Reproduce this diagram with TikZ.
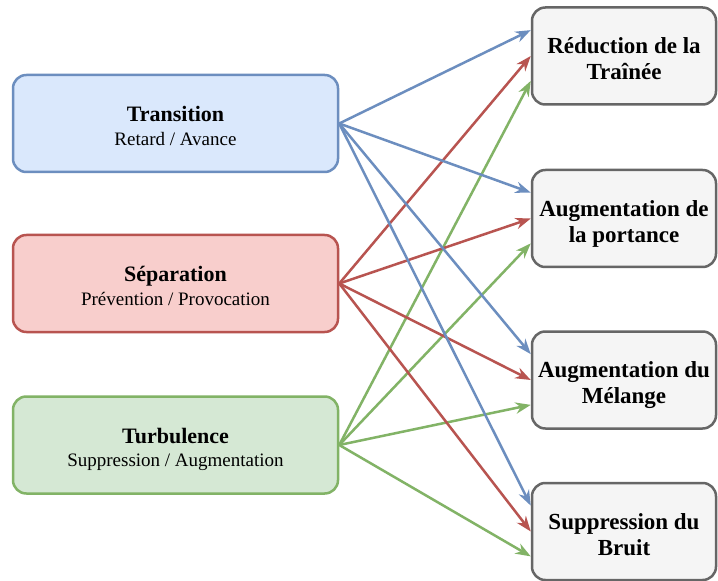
\documentclass[tikz,border=0pt]{standalone}
\usepackage{fontspec}
\setmainfont{Liberation Serif}
\usetikzlibrary{arrows.meta,calc}
\definecolor{bluefill}{HTML}{DAE8FC}
\definecolor{bluedraw}{HTML}{6C8EBF}
\definecolor{redfill}{HTML}{F8CECC}
\definecolor{reddraw}{HTML}{B85450}
\definecolor{greenfill}{HTML}{D5E8D4}
\definecolor{greendraw}{HTML}{82B366}
\definecolor{grayfill}{HTML}{F5F5F5}
\definecolor{graydraw}{HTML}{666666}
\tikzset{
  leftbox/.style={draw, rounded corners=10pt, line width=1.875pt, minimum width=243.75pt, minimum height=72.75pt, inner sep=0pt, font=\fontsize{14.25}{17.6}\selectfont},
  rightbox/.style={draw=graydraw, fill=grayfill, rounded corners=10pt, line width=1.875pt, minimum width=138pt, minimum height=72.75pt, inner sep=0pt, font=\bfseries\fontsize{17.25}{19.5}\selectfont},
  conn/.style={line width=1.875pt, -{Stealth[length=11.5pt,width=8.5pt]}}
}
\newcommand{\ttl}[1]{{\bfseries\fontsize{16.5}{17.25}\selectfont #1}}
\newcommand{\boxtext}[1]{\raisebox{-4pt}[\height][\depth]{\begin{tabular}{@{}c@{}}#1\end{tabular}}}
\begin{document}
\begin{tikzpicture}[x=0.75pt,y=-0.75pt]
\useasboundingbox[fill=white] (0,0) rectangle (718,581);
\node[leftbox, fill=bluefill, draw=bluedraw] (tr) at (175.5,123.5) {\boxtext{\ttl{Transition}\\Retard / Avance}};
\node[leftbox, fill=redfill, draw=reddraw] (se) at (175.5,283.5) {\boxtext{\ttl{Séparation}\\Prévention / Provocation}};
\node[leftbox, fill=greenfill, draw=greendraw] (tu) at (175.5,445) {\boxtext{\ttl{Turbulence}\\Suppression / Augmentation}};

\node[rightbox] (rd) at (624,56) {\boxtext{Réduction de la\\Traînée}};
\node[rightbox] (po) at (624,218.5) {\boxtext{Augmentation de\\la portance}};
\node[rightbox] (me) at (624,380) {\boxtext{Augmentation du\\Mélange}};
\node[rightbox] (br) at (624,531.5) {\boxtext{Suppression du\\Bruit}};

\foreach \t in {rd,po,me,br}{
  \draw[conn, color=bluedraw] (tr.east) -- ($(\t.north west)!0.24!(\t.south west)$);
  \draw[conn, color=reddraw] (se.east) -- ($(\t.north west)!0.5!(\t.south west)$);
  \draw[conn, color=greendraw] (tu.east) -- ($(\t.north west)!0.75!(\t.south west)$);
}
\end{tikzpicture}
\end{document}
